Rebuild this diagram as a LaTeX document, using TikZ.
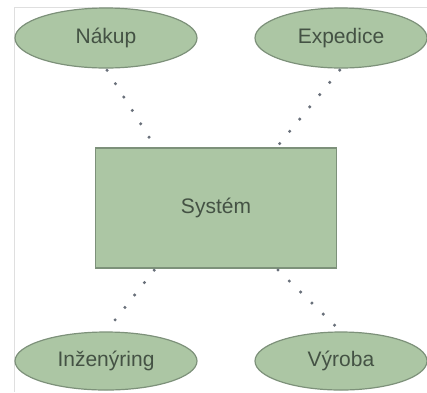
\documentclass[tikz,border=0pt]{standalone}
\usepackage{fontspec}
\setmainfont{Liberation Sans}
\usepackage{xcolor}
\usetikzlibrary{shapes.geometric,calc}

\definecolor{boxfill}{RGB}{172,198,164}
\definecolor{boxline}{RGB}{125,145,122}
\definecolor{boxtext}{RGB}{68,82,68}
\definecolor{dotcol}{RGB}{105,112,122}

\begin{document}
\begin{tikzpicture}[
    x=1pt, y=-1pt,
    every node/.style={font=\fontsize{21}{24}\selectfont, text=boxtext},
    part/.style={ellipse, draw=boxline, fill=boxfill, line width=1.2pt, inner sep=0pt},
    core/.style={rectangle, draw=boxline, fill=boxfill, line width=1.2pt, inner sep=0pt,
                 minimum width=241, minimum height=120},
    link/.style={dotcol, line width=3.4pt, line cap=round, dash pattern=on 0pt off 15.8pt,
                 shorten <=2pt, shorten >=2pt}
]
\useasboundingbox (0,0) rectangle (427,392);
% light frame on the left and top
\draw[gray!25, line width=1pt] (14.5,392) -- (14.5,7.5) -- (427,7.5);

\node[core] (system) at (216,208) {Systém};
\node[part, minimum width=182, minimum height=60] (nakup)      at (106,38)  {Nákup};
\node[part, minimum width=172, minimum height=60] (expedice)   at (341,38)  {Expedice};
\node[part, minimum width=182, minimum height=58] (inzenyring) at (106,361) {Inženýring};
\node[part, minimum width=172, minimum height=58] (vyroba)     at (341,361) {Výroba};

% ends of the links on the system box
\coordinate (sysNW) at ($(system.north)!0.5!(system.north west)$);
\coordinate (sysNE) at ($(system.north)!0.5!(system.north east)$);
\coordinate (sysSW) at ($(system.south)!0.5!(system.south west)$);
\coordinate (sysSE) at ($(system.south)!0.5!(system.south east)$);

% dotted links, always drawn downwards
\draw[link] (nakup.south) -- (sysNW);
\draw[link] (expedice.south) -- (sysNE);
\draw[link] (sysSW) -- (inzenyring.north);
\draw[link] (sysSE) -- (vyroba.north);
\end{tikzpicture}
\end{document}
